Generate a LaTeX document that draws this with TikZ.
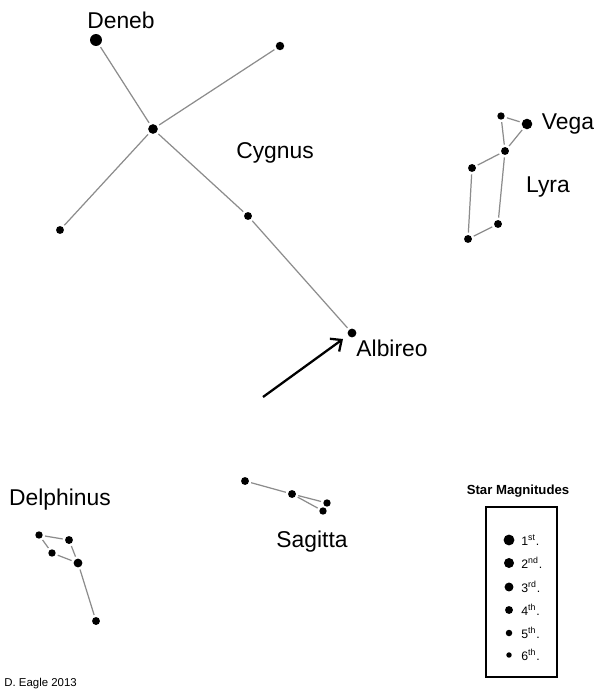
\documentclass[tikz,border=0pt]{standalone}
\usepackage{fontspec}
\setmainfont{Liberation Sans}
\usetikzlibrary{arrows.meta}
\tikzset{
  star/.style={circle,fill=black,inner sep=0pt,minimum size=#1},
  star/.default=4.5pt,
  link/.style={draw=black!45,line width=0.7pt,shorten <=1.2pt,shorten >=1.2pt},
  label/.style={font=\fontsize{13}{15}\selectfont,inner sep=0pt},
  small/.style={font=\fontsize{7}{8}\selectfont,inner sep=0pt,anchor=west}
}
\begin{document}
\begin{tikzpicture}[x=0.02cm,y=-0.02cm]
\useasboundingbox (0,0) rectangle (595,692);
% Cygnus
\node[star=6.8pt] (deneb) at (96,40) {};
\node[star=4.8pt] (cygne) at (280,46) {};
\node[star=5.5pt] (sadr) at (153,129) {};
\node[star] (cygw) at (60,230) {};
\node[star] (cygm) at (248,216) {};
\node[star=5pt] (albireo) at (352,333) {};
\draw[link] (deneb) -- (sadr);
\draw[link] (cygne) -- (sadr);
\draw[link] (sadr) -- (cygw);
\draw[link] (sadr) -- (cygm);
\draw[link] (cygm) -- (albireo);
\node[label] (ldeneb) at (121,20) {Deneb};
\node[label] (lcygnus) at (275,153) {Cygnus};
\node[label] (lalbireo) at (392,348) {Albireo};
% Lyra
\node[star=6pt] (vega) at (527,124) {};
\node[star=4.2pt] (lyra1) at (501,116) {};
\node[star=4.5pt] (lyra2) at (505,151) {};
\node[star=4.5pt] (lyra3) at (472,168) {};
\node[star=4.5pt] (lyra4) at (498,224) {};
\node[star=4.5pt] (lyra5) at (468,239) {};
\draw[link] (lyra1) -- (vega);
\draw[link] (lyra1) -- (lyra2);
\draw[link] (vega) -- (lyra2);
\draw[link] (lyra2) -- (lyra3);
\draw[link] (lyra2) -- (lyra4);
\draw[link] (lyra3) -- (lyra5);
\draw[link] (lyra5) -- (lyra4);
\node[label] (lvega) at (568,124) {Vega};
\node[label] (llyra) at (548,187) {Lyra};
% arrow to Albireo
\coordinate (tail) at (263,397);
\coordinate (tip) at (343,339);
\draw[line width=1.3pt,-{Straight Barb[length=5pt,width=9pt,line width=1.3pt]}] (tail) -- (tip);
% Sagitta
\node[star] (sge1) at (245,481) {};
\node[star] (sge2) at (292,494) {};
\node[star=4.2pt] (sge3) at (327,503) {};
\node[star=4.2pt] (sge4) at (323,511) {};
\draw[link] (sge1) -- (sge2);
\draw[link] (sge2) -- (sge3);
\draw[link] (sge2) -- (sge4);
\node[label] (lsagitta) at (312,542) {Sagitta};
% Delphinus
\node[star=4.2pt] (del1) at (39,535) {};
\node[star] (del2) at (69,540) {};
\node[star=4.2pt] (del3) at (52,553) {};
\node[star=5pt] (del4) at (78,563) {};
\node[star] (del5) at (96,621) {};
\draw[link] (del1) -- (del2);
\draw[link] (del1) -- (del3);
\draw[link] (del2) -- (del4);
\draw[link] (del3) -- (del4);
\draw[link] (del4) -- (del5);
\node[label] (ldelphinus) at (60,500) {Delphinus};
% magnitude key
\node[font=\bfseries\fontsize{7.5}{9}\selectfont,inner sep=0pt] (keytitle) at (518,491) {Star Magnitudes};
\draw[line width=1.2pt] (486,507) rectangle (557,677);
\foreach \y/\d/\t [count=\i] in {540/6.2pt/st,563/5.7pt/nd,587/5.1pt/rd,610/4.5pt/th,633/3.7pt/th,655/3.1pt/th}{
  \node[star=\d] (mag\i) at (509,\y) {};
  \node[small] (magtxt\i) at (521,\y) {\i\textsuperscript{\t}.};
}
\node[font=\fontsize{6.5}{8}\selectfont,inner sep=0pt,anchor=west] (credit) at (4,684) {D. Eagle 2013};
\end{tikzpicture}
\end{document}
